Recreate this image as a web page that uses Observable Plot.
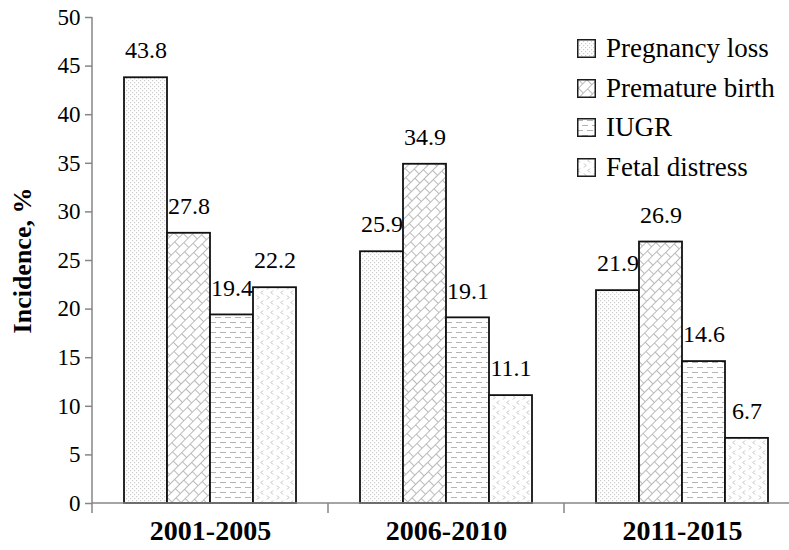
<!DOCTYPE html>
<html><head><meta charset="utf-8">
<script src="https://cdn.jsdelivr.net/npm/d3@7"></script>
<script src="https://cdn.jsdelivr.net/npm/@observablehq/plot@0.6"></script>
<style>
body{margin:0;background:#fff;overflow:hidden;}
#wrap{position:relative;width:789px;height:550px;overflow:hidden;}
#legend{position:absolute;left:577px;top:29px;font-family:"Liberation Serif","Times New Roman",Times,"DejaVu Serif",serif;font-size:27px;color:#000;line-height:1;}
.item{display:flex;align-items:center;height:39.5px;white-space:nowrap;}
.item svg{margin-right:10px;flex:none;}
</style></head><body>
<svg width="0" height="0" style="position:absolute">
<defs>
<pattern id="pat-dots" width="4" height="4" patternUnits="userSpaceOnUse">
<rect width="4" height="4" fill="#fff"/>
<rect x="0" y="0" width="1.2" height="1.2" fill="#cdcdcd"/>
<rect x="2" y="2" width="1.2" height="1.2" fill="#cdcdcd"/>
</pattern>
<pattern id="pat-brick" width="24" height="14" patternUnits="userSpaceOnUse" patternTransform="rotate(-45)">
<rect width="24" height="14" fill="#fff"/>
<path d="M0,0.5H24M0,7.5H24M0.5,0.5V7.5M12.5,0.5V7.5M6.5,7.5V14.5M18.5,7.5V14.5" stroke="#bababa" stroke-width="1" fill="none"/>
</pattern>
<pattern id="pat-dash" width="10" height="10" patternUnits="userSpaceOnUse">
<rect width="10" height="10" fill="#fff"/>
<path d="M0,2.5H6M5,7.5H11M-5,7.5H1" stroke="#b4b4b4" stroke-width="1" fill="none"/>
</pattern>
<pattern id="pat-chev" width="10" height="10" patternUnits="userSpaceOnUse">
<rect width="10" height="10" fill="#fff"/>
<path d="M3,0.5L1,2.5L3,4.5M7,5.5L9,7.5L7,9.5" stroke="#bcbcbc" stroke-width="1" fill="none"/>
</pattern>
</defs>
</svg>
<div id="wrap"><div id="legend"></div></div>
<script>
const periods = ["2001-2005", "2006-2010", "2011-2015"];
const series = ["Pregnancy loss", "Premature birth", "IUGR", "Fetal distress"];
const pregnancyLoss = [43.8, 25.9, 21.9];
const prematureBirth = [27.8, 34.9, 26.9];
const iugr = [19.4, 19.1, 14.6];
const fetalDistress = [22.2, 11.1, 6.7];
const yTicks = [0, 5, 10, 15, 20, 25, 30, 35, 40, 45, 50];
const yLabel = "Incidence, %";
const patternUrls = ["url(#pat-dots)", "url(#pat-brick)", "url(#pat-dash)", "url(#pat-chev)"];

const valuesBySeries = [pregnancyLoss, prematureBirth, iugr, fetalDistress];
const rows = periods.flatMap((p, i) => series.map((s, j) => ({period: p, series: s, value: valuesBySeries[j][i]})));

const font = "Liberation Serif, Times New Roman, Times, DejaVu Serif, serif";
const axisGray = "#868686";

const chart = Plot.plot({
  width: 789,
  height: 550,
  marginLeft: 92,
  marginRight: -11,
  marginTop: 17,
  marginBottom: 47,
  style: {fontFamily: font, background: "transparent", overflow: "visible"},
  fx: {domain: periods, padding: 0, label: null},
  x: {domain: series, paddingInner: 0, paddingOuter: 0.744, axis: null},
  y: {domain: [0, 50], label: null},
  color: {type: "ordinal", domain: series, range: patternUrls},
  marks: [
    Plot.barY(rows, {fx: "period", x: "series", y: "value", fill: "series", stroke: "#111", strokeWidth: 1.8}),
    Plot.ruleY(periods, {fx: d => d, y: () => 0, stroke: axisGray, strokeWidth: 1.5,
      render: (index, scales, values, dims) => {
        const g = d3.create("svg:g");
        const x0 = dims.marginLeft;
        const y0 = scales.y(0);
        const first = index.some(i => i === 0);
        g.append("line").attr("x1", x0).attr("x2", x0 + (dims.width - dims.marginLeft - dims.marginRight))
          .attr("y1", y0).attr("y2", y0).attr("stroke", axisGray).attr("stroke-width", 1.5);
        g.append("line").attr("x1", x0).attr("x2", x0)
          .attr("y1", first ? scales.y(d3.max(yTicks)) : y0).attr("y2", y0 + 10)
          .attr("stroke", axisGray).attr("stroke-width", 1.5);
        return g.node();
      }}),
    Plot.axisY({ticks: yTicks, tickSize: 7, tickPadding: 5, fontSize: 23, stroke: axisGray, strokeWidth: 1.5, fill: "#000", label: null}),
    Plot.axisFx({anchor: "bottom", tickSize: 0, tickPadding: 17, fontSize: 28, fontWeight: "bold", fill: "#000", label: null}),
    Plot.text([{period: periods[0], label: yLabel}], {fx: "period", text: "label", frameAnchor: "left", textAnchor: "middle", rotate: -90, dx: -70, fontSize: 26, fontWeight: "bold", fill: "#000"}),
    Plot.text(rows, {fx: "period", x: "series", y: "value", text: d => d.value.toFixed(1), dy: -27, lineAnchor: "middle", fontSize: 24, fill: "#000"})
  ]
});
d3.select(chart).selectAll('g[aria-label="fx-axis tick label"] text').style("font-weight", "bold");
document.getElementById("wrap").prepend(chart);

const legend = document.getElementById("legend");
series.forEach((s, j) => {
  const item = document.createElement("div");
  item.className = "item";
  item.innerHTML = `<svg width="19" height="19"><rect x="0.75" y="0.75" width="17.5" height="17.5" fill="${patternUrls[j]}" stroke="#1c1c1c" stroke-width="1.5"/></svg><span>${s}</span>`;
  legend.appendChild(item);
});
</script>
</body></html>
